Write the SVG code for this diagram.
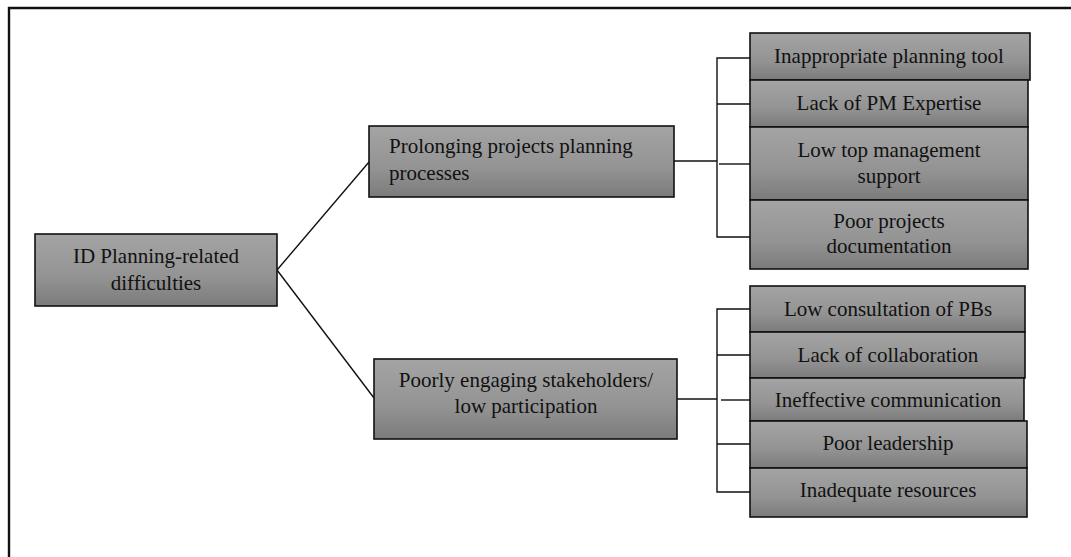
<svg xmlns="http://www.w3.org/2000/svg" width="1071" height="557" viewBox="0 0 1071 557">
  <defs>
    <linearGradient id="boxFill" x1="0" y1="0" x2="0" y2="1">
      <stop offset="0" stop-color="#a4a4a4"/>
      <stop offset="0.6" stop-color="#939393"/>
      <stop offset="1" stop-color="#7b7b7b"/>
    </linearGradient>
  </defs>
  <style>
    .box { fill: url(#boxFill); stroke: #111; stroke-width: 1.6; }
    .lbl { font-family: 'Liberation Serif', 'Times New Roman', Times, serif; font-size: 21px; fill: #111; text-anchor: middle; }
    .lbl-left { text-anchor: start; }
    .link { fill: none; stroke: #111; stroke-width: 1.4; }
    .frame { fill: none; stroke: #111; stroke-width: 2.4; }
  </style>

  <rect width="1071" height="557" fill="#ffffff"/>

  <!-- frame: top and left borders -->
  <path class="frame" d="M9,557 V8 H1071"/>

  <!-- connectors -->
  <g id="connectors">
    <line class="link" x1="277" y1="270" x2="369" y2="162"/>
    <line class="link" x1="277" y1="270" x2="374" y2="398"/>
    <!-- upper bracket -->
    <path class="link" d="M674,161 H717"/>
    <path class="link" d="M750,58 H717 V237 H750"/>
    <path class="link" d="M717,104 H750"/>
    <path class="link" d="M719,164 H750"/>
    <!-- lower bracket -->
    <path class="link" d="M677,399 H717"/>
    <path class="link" d="M750,309 H717 V492 H750"/>
    <path class="link" d="M717,355 H750"/>
    <path class="link" d="M721,400 H750"/>
    <path class="link" d="M717,444 H750"/>
  </g>

  <g id="root">
    <rect class="box" x="35" y="234" width="242" height="72"/>
    <text class="lbl" x="156" y="263">ID Planning-related</text>
    <text class="lbl" x="156" y="290">difficulties</text>
  </g>

  <g id="prolonging">
    <rect class="box" x="369" y="126" width="305" height="71"/>
    <text class="lbl lbl-left" x="389" y="153">Prolonging projects planning</text>
    <text class="lbl lbl-left" x="389" y="180">processes</text>
  </g>

  <g id="poorly-engaging">
    <rect class="box" x="374" y="359" width="303" height="80"/>
    <text class="lbl" x="526" y="387">Poorly engaging stakeholders/</text>
    <text class="lbl" x="526" y="413">low participation</text>
  </g>

  <g id="planning-tool">
    <rect class="box" x="750" y="33" width="280" height="47"/>
    <text class="lbl" x="889" y="63">Inappropriate planning tool</text>
  </g>
  <g id="pm-expertise">
    <rect class="box" x="750" y="80" width="278" height="47"/>
    <text class="lbl" x="889" y="110">Lack of PM Expertise</text>
  </g>
  <g id="top-management">
    <rect class="box" x="750" y="127" width="278" height="73"/>
    <text class="lbl" x="889" y="157">Low top management</text>
    <text class="lbl" x="889" y="183">support</text>
  </g>
  <g id="documentation">
    <rect class="box" x="750" y="200" width="278" height="69"/>
    <text class="lbl" x="889" y="228">Poor projects</text>
    <text class="lbl" x="889" y="253">documentation</text>
  </g>

  <g id="consultation">
    <rect class="box" x="750" y="286" width="275" height="46"/>
    <text class="lbl" x="888" y="316">Low consultation of PBs</text>
  </g>
  <g id="collaboration">
    <rect class="box" x="750" y="332" width="275" height="46"/>
    <text class="lbl" x="888" y="362">Lack of collaboration</text>
  </g>
  <g id="communication">
    <rect class="box" x="750" y="378" width="274" height="43"/>
    <text class="lbl" x="888" y="407">Ineffective communication</text>
  </g>
  <g id="leadership">
    <rect class="box" x="750" y="421" width="277" height="47"/>
    <text class="lbl" x="888" y="450">Poor leadership</text>
  </g>
  <g id="resources">
    <rect class="box" x="750" y="468" width="277" height="49"/>
    <text class="lbl" x="888" y="497">Inadequate resources</text>
  </g>
</svg>
